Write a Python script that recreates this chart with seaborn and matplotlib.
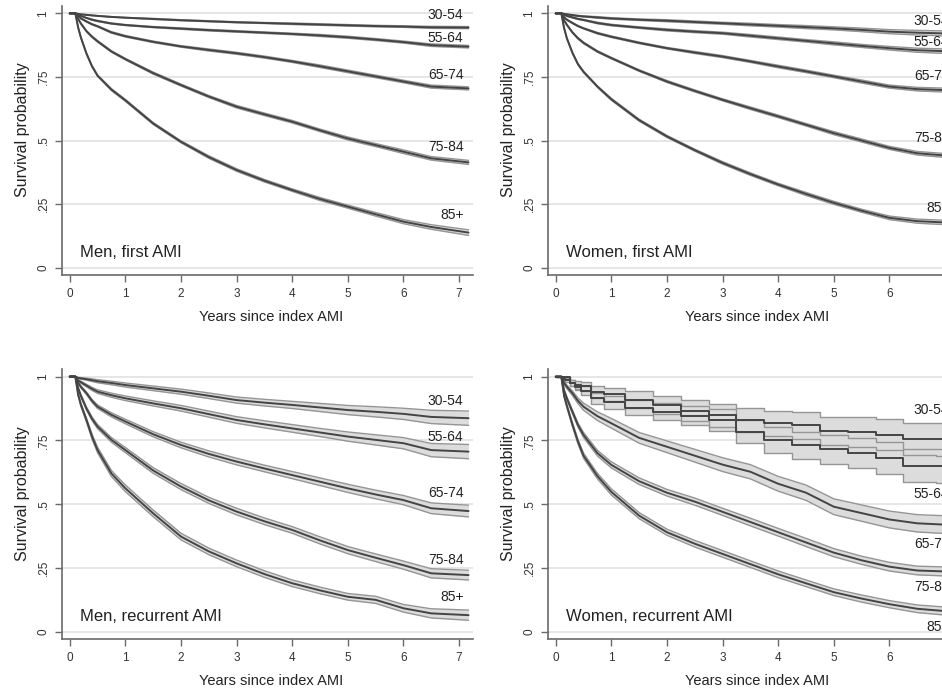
import matplotlib
matplotlib.use("Agg")
import matplotlib.pyplot as plt
import seaborn as sns
import numpy as np

# ---------------- data ----------------
YEARS = [0, 0.1, 0.15, 0.2, 0.3, 0.4, 0.5, 0.75, 1, 1.5, 2, 2.5, 3, 3.5, 4, 4.5, 5, 5.5, 6, 6.5, 7.17]
AGE_GROUPS = ["30-54", "55-64", "65-74", "75-84", "85+"]
PANEL_TITLES = ["Men, first AMI", "Women, first AMI", "Men, recurrent AMI", "Women, recurrent AMI"]
Y_TICKS = [0, 0.25, 0.5, 0.75, 1]
Y_TICK_LABELS = ["0", ".25", ".5", ".75", "1"]
X_TICKS = [0, 1, 2, 3, 4, 5, 6, 7]

# Men, first AMI  (survival estimates)
MF_30_54 = [1, 1, .998, .996, .994, .992, .990, .986, .983, .978, .973, .969, .965, .962, .959, .956, .953, .950, .948, .945, .944]
MF_55_64 = [1, 1, .995, .990, .982, .975, .970, .960, .954, .946, .940, .934, .929, .924, .919, .913, .906, .897, .887, .875, .869]
MF_65_74 = [1, 1, .990, .980, .968, .957, .949, .925, .910, .888, .870, .856, .843, .828, .811, .792, .772, .752, .732, .712, .705]
MF_75_84 = [1, 1, .978, .960, .930, .908, .890, .850, .820, .765, .718, .673, .633, .603, .574, .540, .508, .482, .456, .430, .414]
MF_85 = [1, 1, .945, .905, .842, .792, .755, .700, .658, .567, .495, .435, .384, .342, .305, .270, .240, .210, .181, .160, .138]
# Men, first AMI  (CI half widths)
MF_30_54_CI = [0, 0, .001, .001, .001, .001, .001, .001, .001, .002, .002, .002, .002, .002, .003, .003, .003, .003, .003, .004, .004]
MF_55_64_CI = [0, 0, .001, .001, .001, .002, .002, .002, .002, .002, .003, .003, .003, .003, .003, .004, .004, .004, .004, .005, .005]
MF_65_74_CI = [0, 0, .001, .002, .002, .002, .002, .003, .003, .003, .003, .004, .004, .004, .004, .005, .005, .005, .005, .006, .006]
MF_75_84_CI = [0, 0, .001, .002, .002, .003, .003, .003, .003, .004, .004, .004, .005, .005, .005, .005, .006, .006, .007, .007, .008]
MF_85_CI = [0, 0, .002, .003, .003, .003, .003, .004, .004, .004, .004, .005, .005, .005, .005, .006, .006, .007, .008, .009, .011]

# Women, first AMI
WF_30_54 = [1, 1, .998, .996, .993, .990, .988, .984, .980, .975, .971, .966, .961, .956, .951, .946, .941, .935, .928, .924, .920]
WF_55_64 = [1, 1, .995, .990, .984, .978, .974, .962, .954, .944, .935, .928, .922, .912, .902, .892, .882, .872, .863, .855, .850]
WF_65_74 = [1, 1, .985, .975, .962, .950, .941, .922, .908, .884, .863, .846, .830, .811, .791, .772, .752, .732, .712, .702, .697]
WF_75_84 = [1, 1, .972, .955, .925, .902, .884, .850, .824, .775, .732, .695, .660, .627, .595, .562, .529, .500, .471, .450, .438]
WF_85 = [1, 1, .942, .902, .845, .800, .770, .712, .662, .580, .516, .462, .412, .368, .327, .290, .255, .224, .196, .183, .176]
WF_30_54_CI = [0, 0, .001, .002, .002, .002, .002, .003, .003, .003, .004, .004, .004, .005, .005, .006, .006, .007, .008, .009, .010]
WF_55_64_CI = [0, 0, .001, .002, .002, .002, .002, .003, .003, .003, .004, .004, .004, .005, .005, .005, .006, .006, .007, .008, .009]
WF_65_74_CI = [0, 0, .001, .002, .002, .002, .002, .003, .003, .003, .003, .004, .004, .004, .005, .005, .005, .006, .006, .007, .008]
WF_75_84_CI = [0, 0, .002, .002, .002, .003, .003, .003, .003, .003, .004, .004, .004, .005, .005, .005, .006, .006, .006, .007, .008]
WF_85_CI = [0, 0, .002, .003, .003, .003, .003, .003, .004, .004, .004, .004, .005, .005, .005, .006, .006, .006, .007, .008, .009]

# Men, recurrent AMI
MR_30_54 = [1, 1, .995, .993, .990, .986, .982, .975, .967, .954, .941, .925, .908, .898, .889, .879, .869, .862, .854, .842, .837]
MR_55_64 = [1, 1, .985, .978, .965, .952, .941, .927, .915, .895, .876, .853, .830, .813, .797, .781, .765, .752, .739, .712, .706]
MR_65_74 = [1, 1, .975, .960, .935, .905, .882, .850, .824, .774, .732, .697, .667, .640, .614, .588, .562, .538, .516, .484, .473]
MR_75_84 = [1, 1, .955, .925, .875, .835, .804, .752, .712, .632, .569, .515, .471, .433, .399, .358, .320, .290, .261, .229, .222]
MR_85 = [1, 1, .930, .890, .830, .765, .712, .620, .562, .464, .373, .315, .268, .226, .190, .162, .137, .125, .092, .072, .065]
MR_30_54_CI = [0, 0, .002, .003, .004, .005, .006, .007, .008, .009, .010, .011, .012, .013, .014, .016, .018, .020, .022, .026, .028]
MR_55_64_CI = [0, 0, .003, .004, .005, .006, .007, .008, .009, .010, .011, .012, .013, .014, .015, .016, .018, .020, .022, .026, .028]
MR_65_74_CI = [0, 0, .003, .004, .005, .006, .007, .008, .009, .010, .011, .012, .013, .013, .014, .015, .016, .017, .018, .021, .023]
MR_75_84_CI = [0, 0, .004, .005, .006, .007, .008, .009, .010, .011, .012, .012, .013, .013, .013, .014, .014, .015, .016, .018, .019]
MR_85_CI = [0, 0, .005, .007, .008, .010, .011, .012, .013, .013, .013, .013, .013, .013, .013, .013, .013, .014, .015, .018, .020]

# Women, recurrent AMI
WR_30_54 = [1, 1, 1, 1, .975, .968, .962, .940, .930, .910, .888, .867, .848, .830, .817, .810, .786, .784, .772, .754, .754]
WR_55_64 = [1, 1, .990, .985, .975, .960, .945, .915, .900, .878, .862, .847, .830, .784, .752, .730, .715, .700, .680, .650, .650]
WR_65_74 = [1, 1, .975, .960, .935, .905, .882, .845, .817, .760, .725, .690, .655, .627, .580, .545, .490, .465, .440, .425, .418]
WR_75_84 = [1, 1, .945, .915, .862, .810, .771, .700, .654, .590, .545, .510, .470, .430, .390, .350, .310, .280, .255, .240, .235]
WR_85 = [1, 1, .925, .885, .812, .745, .690, .610, .548, .455, .390, .345, .305, .265, .225, .190, .155, .130, .108, .090, .078]
WR_30_54_CI = [0, 0, 0, 0, .012, .015, .018, .022, .026, .032, .036, .040, .044, .047, .050, .053, .056, .058, .060, .063, .064]
WR_55_64_CI = [0, 0, .006, .008, .010, .012, .018, .022, .025, .030, .034, .038, .042, .046, .050, .053, .056, .059, .062, .065, .066]
WR_65_74_CI = [0, 0, .005, .007, .009, .011, .014, .017, .019, .021, .023, .025, .027, .028, .029, .030, .031, .032, .033, .034, .035]
WR_75_84_CI = [0, 0, .005, .006, .007, .008, .010, .011, .012, .013, .013, .014, .014, .015, .015, .016, .016, .016, .017, .017, .018]
WR_85_CI = [0, 0, .005, .006, .008, .009, .010, .011, .012, .012, .012, .013, .013, .013, .013, .013, .013, .014, .014, .015, .016]

# label placement (survival level where each age label sits)
MF_LABEL_Y = [0.994, 0.902, 0.758, 0.476, 0.207]
WF_LABEL_Y = [0.968, 0.886, 0.755, 0.510, 0.235]
MR_LABEL_Y = [0.906, 0.765, 0.543, 0.281, 0.135]
WR_LABEL_Y = [0.869, 0.540, 0.344, 0.176, 0.020]

panels = [
    (PANEL_TITLES[0], [MF_30_54, MF_55_64, MF_65_74, MF_75_84, MF_85],
     [MF_30_54_CI, MF_55_64_CI, MF_65_74_CI, MF_75_84_CI, MF_85_CI], MF_LABEL_Y, [False] * 5),
    (PANEL_TITLES[1], [WF_30_54, WF_55_64, WF_65_74, WF_75_84, WF_85],
     [WF_30_54_CI, WF_55_64_CI, WF_65_74_CI, WF_75_84_CI, WF_85_CI], WF_LABEL_Y, [False] * 5),
    (PANEL_TITLES[2], [MR_30_54, MR_55_64, MR_65_74, MR_75_84, MR_85],
     [MR_30_54_CI, MR_55_64_CI, MR_65_74_CI, MR_75_84_CI, MR_85_CI], MR_LABEL_Y, [False] * 5),
    (PANEL_TITLES[3], [WR_30_54, WR_55_64, WR_65_74, WR_75_84, WR_85],
     [WR_30_54_CI, WR_55_64_CI, WR_65_74_CI, WR_75_84_CI, WR_85_CI], WR_LABEL_Y,
     [True, True, False, False, False]),
]

# ---------------- style ----------------
sns.set_theme(style="white")
plt.rcParams["font.family"] = ["Liberation Sans", "DejaVu Sans"]

fig = plt.figure(figsize=(9.42, 6.89), dpi=100)
W = 0.4363
positions = [
    (0.0658, 0.6004, W, 0.3913),
    (0.5817, 0.6004, W, 0.3913),
    (0.0658, 0.0720, W, 0.3925),
    (0.5817, 0.0720, W, 0.3925),
]

LINE_C = "#444444"
EDGE_C = "#959595"
FILL_C = "#dcdcdc"
AX_C = "#6a6a6a"

t = np.array(YEARS)
for (title, series, cis, label_y, stepped), pos in zip(panels, positions):
    ax = fig.add_axes(pos)
    ax.set_xlim(-0.14, 7.25)
    ax.set_ylim(-0.03, 1.03)
    for yv in Y_TICKS:
        ax.axhline(yv, color="#e4e4e4", lw=1.3, zorder=0)
    for vals, ci, st in zip(series, cis, stepped):
        v = np.array(vals)
        c = np.array(ci)
        lo, hi = v - c, v + c
        ds = "steps-mid" if st else "default"
        ax.fill_between(t, lo, hi, color=FILL_C, lw=0, zorder=1, step="mid" if st else None)
        sns.lineplot(x=t, y=lo, ax=ax, color=EDGE_C, lw=1.0, estimator=None, sort=False,
                     drawstyle=ds, zorder=2)
        sns.lineplot(x=t, y=hi, ax=ax, color=EDGE_C, lw=1.0, estimator=None, sort=False,
                     drawstyle=ds, zorder=2)
        sns.lineplot(x=t, y=v, ax=ax, color=LINE_C, lw=1.4, estimator=None, sort=False,
                     drawstyle=ds, zorder=3)
    for name, ly in zip(AGE_GROUPS, label_y):
        ax.text(7.08, ly, name, ha="right", va="center", fontsize=10, color="#222222", zorder=4)
    ax.text(0.18, 0.058, title, ha="left", va="center", fontsize=12, color="#222222", zorder=4)

    ax.set_xticks(X_TICKS)
    ax.set_xticklabels([str(x) for x in X_TICKS])
    ax.set_yticks(Y_TICKS)
    ax.set_yticklabels(Y_TICK_LABELS, rotation=90, va="center")
    ax.tick_params(axis="both", which="both", direction="out", length=5, width=1.0,
                   color=AX_C, labelsize=8.5, labelcolor="#333333", left=True, bottom=True)
    ax.tick_params(axis="x", pad=4)
    ax.tick_params(axis="y", pad=4)
    for s in ["top", "right"]:
        ax.spines[s].set_visible(False)
    for s in ["left", "bottom"]:
        ax.spines[s].set_color(AX_C)
        ax.spines[s].set_linewidth(1.2)
    ax.set_xlabel("Years since index AMI", fontsize=10.5, color="#222222", va="center")
    ax.set_ylabel("Survival probability", fontsize=11.5, color="#222222", va="center")
    ax.xaxis.set_label_coords(0.51, -0.155)
    ax.yaxis.set_label_coords(-0.095, 0.54)

fig.savefig("out.png", dpi=100)
